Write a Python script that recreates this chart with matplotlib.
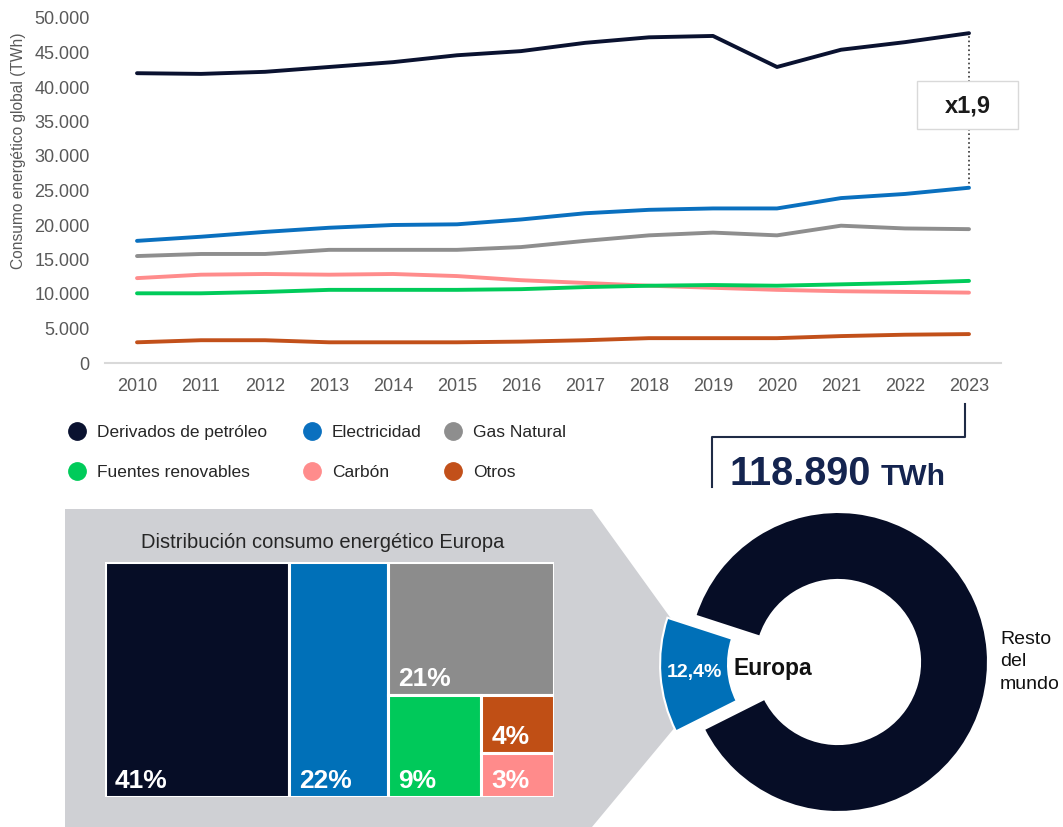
import matplotlib.pyplot as plt
from matplotlib.lines import Line2D
from matplotlib.patches import Polygon, Rectangle

plt.rcParams['font.family'] = ['Liberation Sans', 'DejaVu Sans']

W, H = 1063, 827

# Consumo energético global por fuente (TWh)
years = list(range(2010, 2024))
derivados = [42000, 41900, 42200, 42900, 43600, 44600, 45200, 46400, 47200, 47400, 42900, 45400, 46500, 47800]
electricidad = [17700, 18300, 19000, 19600, 20000, 20100, 20800, 21700, 22200, 22400, 22400, 23900, 24500, 25400]
gas_natural = [15500, 15800, 15800, 16400, 16400, 16400, 16800, 17700, 18500, 18900, 18500, 19900, 19500, 19400]
carbon = [12300, 12800, 12900, 12800, 12900, 12600, 12000, 11600, 11200, 10900, 10600, 10400, 10300, 10200]
renovables = [10100, 10100, 10300, 10600, 10600, 10600, 10700, 11000, 11200, 11300, 11200, 11400, 11600, 11900]
otros = [3000, 3300, 3300, 3000, 3000, 3000, 3100, 3300, 3600, 3600, 3600, 3900, 4100, 4190]

# Reparto en Europa (%)
europa_cats = ['Derivados de petróleo', 'Electricidad', 'Gas Natural', 'Fuentes renovables', 'Otros', 'Carbón']
europa_shares = [41, 22, 21, 9, 4, 3]

# Peso de Europa en el consumo mundial (%)
donut_labels = ['Europa', 'Resto del mundo']
donut_shares = [12.4, 87.6]

colors = {
    'Derivados de petróleo': '#0a1230',
    'Electricidad': '#0a70bf',
    'Gas Natural': '#8e8e8e',
    'Fuentes renovables': '#00cb5a',
    'Carbón': '#ff8c8c',
    'Otros': '#c2501a',
}
tree_colors = {
    'Derivados de petróleo': '#060d26',
    'Electricidad': '#0070b8',
    'Gas Natural': '#8c8c8c',
    'Fuentes renovables': '#00c95a',
    'Carbón': '#ff8b8b',
    'Otros': '#c04f15',
}
series = [
    ('Derivados de petróleo', derivados),
    ('Electricidad', electricidad),
    ('Gas Natural', gas_natural),
    ('Carbón', carbon),
    ('Fuentes renovables', renovables),
    ('Otros', otros),
]


def px_axes(fig, x0, y0, x1, y1, **kw):
    # axes placed by pixel box (top-left origin)
    return fig.add_axes([x0 / W, 1 - y1 / H, (x1 - x0) / W, (y1 - y0) / H], **kw)


fig = plt.figure(figsize=(W / 100, H / 100), dpi=100)

# background layer: grey callout shape behind the treemap
bg = px_axes(fig, 0, 0, W, H, zorder=0)
bg.set_xlim(0, W)
bg.set_ylim(H, 0)
bg.axis('off')
bg.add_patch(Polygon([(65, 509), (592, 509), (672, 620), (676, 726), (592, 827), (65, 827)],
                     closed=True, fc='#cfd0d4', ec='none'))

# line chart
ax = px_axes(fig, 105, 18, 1001, 363, zorder=2)
ax.patch.set_visible(False)
for name, vals in series:
    ax.plot(years, vals, color=colors[name], lw=2.8, solid_capstyle='round', solid_joinstyle='round')
ax.plot([years[-1], years[-1]], [electricidad[-1], derivados[-1]], ls=':', color='#333333', lw=1.2, zorder=1)

ax.set_xlim(2009.5, 2023.5)
ax.set_ylim(0, 50000)
ax.set_xticks(years)
yt = list(range(0, 50001, 5000))
ax.set_yticks(yt)
ax.set_yticklabels([f'{v:,}'.replace(',', '.') for v in yt])
ax.tick_params(axis='both', length=0, labelsize=13, labelcolor='#595959')
ax.tick_params(axis='y', pad=11)
ax.tick_params(axis='x', pad=11)
for s in ['top', 'right', 'left']:
    ax.spines[s].set_visible(False)
ax.spines['bottom'].set_color('#d9d9d9')
ax.spines['bottom'].set_linewidth(1.5)
ax.set_ylabel('Consumo energético global (TWh)', fontsize=11.2, color='#595959')
ax.yaxis.set_label_coords(-0.088, 0.614)

# legend, one block per column
leg_cols = [
    (68, ['Derivados de petróleo', 'Fuentes renovables']),
    (303, ['Electricidad', 'Carbón']),
    (444, ['Gas Natural', 'Otros']),
]
for x0, names in leg_cols:
    handles = [Line2D([], [], marker='o', ls='none', ms=12.5, color=colors[n]) for n in names]
    fig.legend(handles, names, loc='center left', bbox_to_anchor=(x0 / W, 1 - 452.5 / H),
               frameon=False, fontsize=12.5, handlelength=1.0, handletextpad=0.65,
               borderpad=0, borderaxespad=0, labelspacing=1.39, labelcolor='#262626')

# treemap of the European mix
tm = px_axes(fig, 105, 562, 554, 797, zorder=2)
tm.set_xlim(0, 100)
tm.set_ylim(0, 100)
tm.set_xticks([])
tm.set_yticks([])
for s in tm.spines.values():
    s.set_visible(False)
tm.set_facecolor('white')

oil, elec, gas, ren, oth, coal = europa_shares
total = sum(europa_shares)
w_oil = oil / total * 100
w_elec = elec / total * 100
x_rest = w_oil + w_elec
w_rest = 100 - x_rest
h_gas = gas / (gas + ren + oth + coal) * 100
h_low = 100 - h_gas
w_ren = ren / (ren + oth + coal) * w_rest
h_oth = oth / (oth + coal) * h_low
rects = [
    (0, 0, w_oil, 100),
    (w_oil, 0, w_elec, 100),
    (x_rest, h_low, w_rest, h_gas),
    (x_rest, 0, w_ren, h_low),
    (x_rest + w_ren, h_low - h_oth, w_rest - w_ren, h_oth),
    (x_rest + w_ren, 0, w_rest - w_ren, h_low - h_oth),
]
for name, share, (x, y, w, h) in zip(europa_cats, europa_shares, rects):
    tm.add_patch(Rectangle((x, y), w, h, fc=tree_colors[name], ec='white', lw=2.2))
    tm.annotate(f'{share}%', xy=(x, y), xytext=(10, 9), textcoords='offset pixels',
                ha='left', va='baseline', color='white', fontsize=19, fontweight='bold')

# donut: Europe vs rest of the world
dn = px_axes(fig, 838 - 1.25 * 150, 662 - 1.25 * 150, 838 + 1.25 * 150, 662 + 1.1 * 150, zorder=3)
wedges, _, autotexts = dn.pie(
    donut_shares, radius=1, startangle=162, counterclock=True,
    colors=['#0070b8', '#060d26'], explode=[28 / 150, 0],
    wedgeprops=dict(width=0.453, edgecolor='white', linewidth=1.5),
    autopct=lambda p: f'{p:.1f}%'.replace('.', ',') if p < 50 else '',
    pctdistance=0.77,
)
for t in autotexts:
    t.set_color('white')
    t.set_fontsize(14)
    t.set_fontweight('bold')
dn.set_xlim(-1.25, 1.25)
dn.set_ylim(-1.1, 1.25)
dn.text(-0.433, -0.04, donut_labels[0], ha='center', va='center', fontsize=16.5,
        fontweight='bold', color='#111111')
dn.text(1.08, 0.0, 'Resto\ndel\nmundo', ha='left', va='center', fontsize=14,
        color='#111111', linespacing=1.45, clip_on=False)

# foreground layer: ratio box, total callout, treemap title
fg = px_axes(fig, 0, 0, W, H, zorder=5)
fg.set_xlim(0, W)
fg.set_ylim(H, 0)
fg.axis('off')

ratio = derivados[-1] / electricidad[-1]
fg.add_patch(Rectangle((917, 81), 101, 48, fc='white', ec='#d9d9d9', lw=1))
fg.text(968, 106, f'x{ratio:.1f}'.replace('.', ','), ha='center', va='center',
        fontsize=17, fontweight='bold', color='#1a1a1a')

total_2023 = sum(vals[-1] for _, vals in series)
fg.plot([965, 965, 712, 712], [404, 437, 437, 487], color='#1f2b46', lw=1.5)
fg.text(729, 485, f'{total_2023:,}'.replace(',', '.'), ha='left', va='baseline',
        fontsize=28.5, fontweight='bold', color='#14244f')
fg.text(881, 485, 'TWh', ha='left', va='baseline', fontsize=21.5, fontweight='bold', color='#14244f')

fg.text(323, 543, 'Distribución consumo energético Europa', ha='center', va='center',
        fontsize=14.5, color='#262626')

plt.savefig('out.png', dpi=100)
